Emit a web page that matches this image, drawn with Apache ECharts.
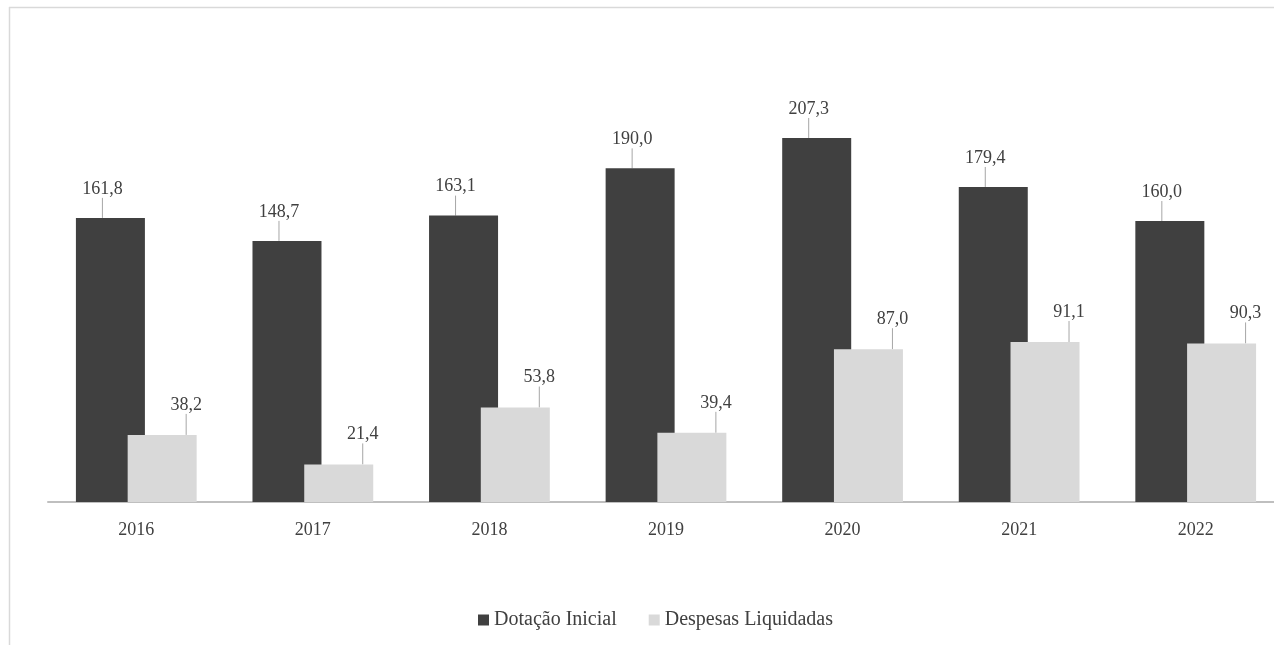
<!DOCTYPE html>
<html>
<head>
<meta charset="utf-8">
<script src="https://cdn.jsdelivr.net/npm/echarts@6/dist/echarts.min.js"></script>
<style>
html,body{margin:0;padding:0;background:#fff;}
#chart{width:1274px;height:645px;}
</style>
</head>
<body>
<div id="chart"></div>
<script>
var anos = ['2016','2017','2018','2019','2020','2021','2022'];
var dotacao = [161.8, 148.7, 163.1, 190.0, 207.3, 179.4, 160.0];
var despesas = [38.2, 21.4, 53.8, 39.4, 87.0, 91.1, 90.3];

var fonte = '"Liberation Serif", "DejaVu Serif", serif';

function virgula(p){
	return p.value.toFixed(1).replace('.', ',');
}

var myChart = echarts.init(document.getElementById('chart'));
var option = {
	animation: false,
	backgroundColor: '#fff',
	graphic: [
		{type: 'line', shape: {x1: 9, y1: 7.5, x2: 1274, y2: 7.5}, style: {stroke: '#d9d9d9', lineWidth: 1.5}},
		{type: 'line', shape: {x1: 9.5, y1: 7, x2: 9.5, y2: 645}, style: {stroke: '#d9d9d9', lineWidth: 1.5}}
	],
	grid: {left: 48, right: -10, top: 63, bottom: 143, outerBoundsMode: 'none'},
	legend: {
		bottom: 10,
		left: 473,
		itemWidth: 11,
		itemHeight: 11,
		itemGap: 32,
		icon: 'rect',
		textStyle: {fontFamily: fonte, fontSize: 20, color: '#404040'},
		data: ['Dotação Inicial', 'Despesas Liquidadas']
	},
	xAxis: {
		type: 'category',
		data: anos,
		axisLine: {lineStyle: {color: '#bfbfbf', width: 2}},
		axisTick: {show: false},
		axisLabel: {margin: 19, fontFamily: fonte, fontSize: 18, color: '#404040'}
	},
	yAxis: {
		type: 'value',
		min: 0,
		max: 250,
		show: false
	},
	series: [
		{
			name: 'Dotação Inicial',
			type: 'bar',
			data: dotacao,
			barWidth: 69,
			barGap: '-25%',
			itemStyle: {color: '#404040'},
			label: {
				show: true,
				position: 'top',
				formatter: virgula,
				fontFamily: fonte,
				fontSize: 18,
				color: '#404040'
			},
			labelLayout: {dx: -8, dy: -15},
			labelLine: {show: true, lineStyle: {color: '#a6a6a6', width: 1}}
		},
		{
			name: 'Despesas Liquidadas',
			type: 'bar',
			data: despesas,
			barWidth: 69,
			itemStyle: {color: '#d9d9d9'},
			label: {
				show: true,
				position: 'top',
				formatter: virgula,
				fontFamily: fonte,
				fontSize: 18,
				color: '#404040'
			},
			labelLayout: {dx: 24, dy: -16},
			labelLine: {show: true, lineStyle: {color: '#a6a6a6', width: 1}}
		}
	]
};
myChart.setOption(option);
</script>
</body>
</html>
